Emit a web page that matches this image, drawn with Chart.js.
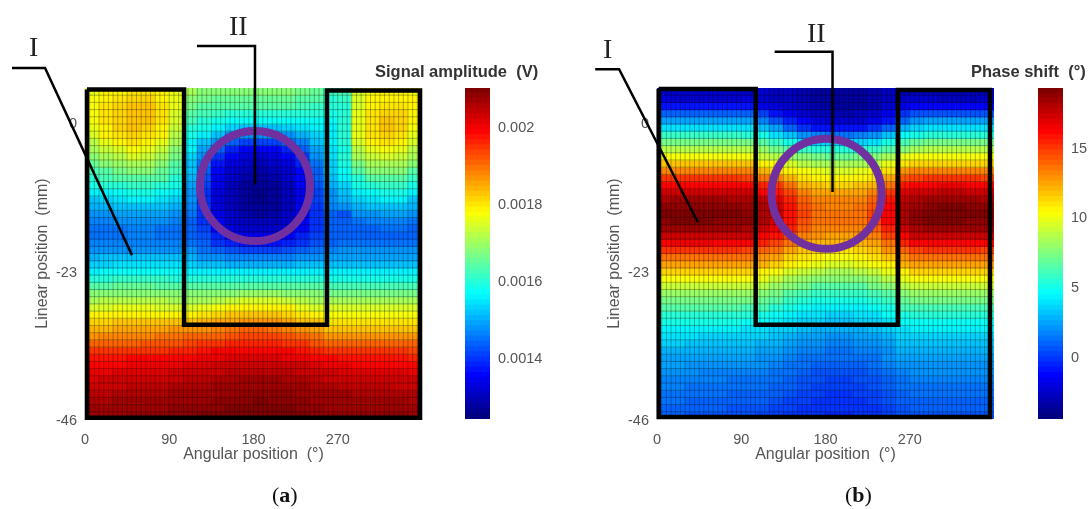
<!DOCTYPE html>
<html>
<head>
<meta charset="utf-8">
<script src="https://cdn.jsdelivr.net/npm/chart.js@4"></script>
<style>
	html, body { margin: 0; padding: 0; background: #fff; width: 1092px; height: 509px; overflow: hidden; }
	canvas { position: absolute; top: 0; filter: blur(0.4px); }
	.txt { position: absolute; white-space: pre; line-height: 1; }
	.cb { font: bold 16.5px "Liberation Sans"; color: #333; top: 62px; }
	.ref { font: 28px "Liberation Serif"; color: #222; }
	.cap { font: 22px "Liberation Serif"; color: #111; top: 482px; }
</style>
</head>
<body>
<canvas id="mapA" style="left:0"></canvas>
<canvas id="barA" style="left:465px"></canvas>
<canvas id="mapB" style="left:572px"></canvas>
<canvas id="barB" style="left:1038px"></canvas>
<div class="txt cb" style="left:375px">Signal amplitude  (V)</div>
<div class="txt cb" style="left:971px">Phase shift  (°)</div>
<div class="txt ref" style="left:29px;top:31px">I</div>
<div class="txt ref" style="left:229px;top:10px">II</div>
<div class="txt ref" style="left:603px;top:33px">I</div>
<div class="txt ref" style="left:807px;top:17px">II</div>
<div class="txt cap" style="left:272px">(<b>a</b>)</div>
<div class="txt cap" style="left:845px">(<b>b</b>)</div>
<script>
// column centres in degrees, rows run top to bottom
var angleCentres = [7.5,22.5,37.5,52.5,67.5,82.5,97.5,112.5,127.5,142.5,157.5,172.5,187.5,202.5,217.5,232.5,247.5,262.5,277.5,292.5,307.5,322.5,337.5,352.5];
var angleTicks = [0, 90, 180, 270];
var linearTicks = [0, -23, -46];
var linearTop = 5.3;
var linearBottom = -46;

// signal amplitude, in 1e-5 V
var amplitudeRows = [
	[176,178,179,180,180,179,176,170,168,167,167,167,167,167,167,166,165,161,162,174,177,178,178,177],
	[177,179,180,181,181,179,176,168,166,165,165,165,165,165,165,164,163,160,161,175,178,179,179,178],
	[177,180,181,182,182,180,176,166,164,163,163,163,163,163,163,162,161,159,160,175,179,180,180,178],
	[177,180,181,182,182,180,175,164,162,161,160,160,160,160,160,160,159,158,160,176,180,181,181,178],
	[177,180,181,182,182,180,174,162,160,158,157,157,157,157,157,157,157,157,159,176,180,182,181,178],
	[176,179,181,182,181,179,173,160,158,155,153,152,152,152,153,154,155,156,159,176,180,182,181,177],
	[175,178,180,181,180,178,172,158,155,151,148,147,147,147,148,150,153,155,159,176,180,181,180,176],
	[172,176,178,180,179,176,170,156,152,147,143,141,141,141,143,146,151,155,159,175,178,180,179,174],
	[170,173,175,177,176,173,168,155,149,143,138,136,135,136,138,143,149,154,158,172,176,177,176,172],
	[167,170,172,174,173,171,166,153,147,140,135,133,132,133,135,140,147,154,160,170,173,174,173,170],
	[165,167,169,170,170,168,164,152,145,137,133,131,130,131,133,138,145,153,158,166,170,170,170,167],
	[162,164,166,167,167,165,162,151,143,135,132,130,129,130,132,136,144,153,157,163,167,167,167,164],
	[160,162,163,164,164,163,160,150,142,134,131,129,128,129,131,135,143,152,155,160,163,164,164,161],
	[158,159,160,161,161,160,158,149,141,134,130,128,127,128,130,135,142,150,153,158,160,161,161,158],
	[155,156,157,158,158,157,155,148,140,133,130,127,126,127,130,134,141,148,151,156,157,158,158,155],
	[152,153,154,155,155,154,153,147,140,133,130,127,126,127,130,134,141,147,150,153,154,155,155,152],
	[150,150,151,152,152,151,150,146,140,133,130,128,127,128,130,134,140,146,148,150,151,152,152,150],
	[148,148,149,149,149,149,148,145,140,134,131,129,128,129,131,134,139,143,142,147,148,149,149,147],
	[146,146,147,147,147,147,146,144,140,135,132,130,130,130,132,135,140,143,144,145,146,146,146,145],
	[145,145,145,146,146,145,145,144,141,136,133,132,132,132,133,136,140,143,144,144,144,145,145,144],
	[145,145,145,146,146,145,145,144,142,138,135,134,134,134,135,138,141,143,143,144,144,144,144,144],
	[146,146,146,146,146,146,146,145,143,140,138,137,137,137,138,140,142,144,145,145,145,145,145,145],
	[148,148,148,148,148,148,148,147,145,143,142,141,141,141,142,143,145,146,147,147,147,147,147,147],
	[150,151,151,151,151,151,151,150,148,147,146,146,146,146,146,147,148,149,149,149,149,149,149,149],
	[153,153,154,154,154,154,154,153,152,151,150,150,150,150,150,151,152,152,152,152,152,152,152,152],
	[156,157,157,157,157,157,157,156,155,155,155,155,155,155,155,155,155,155,155,155,155,155,155,155],
	[159,160,161,161,161,161,160,160,159,159,159,160,160,160,159,159,159,158,158,158,158,158,158,158],
	[163,164,165,165,165,164,164,163,163,163,164,164,164,164,164,163,163,162,162,162,162,162,162,162],
	[167,168,168,168,168,168,168,167,167,168,168,169,169,169,168,168,167,166,166,166,166,166,166,166],
	[171,172,172,172,172,172,171,171,171,172,173,174,174,174,173,172,171,170,170,170,170,170,170,170],
	[175,175,176,176,176,175,175,175,176,177,178,178,178,178,178,176,175,174,174,174,174,174,174,174],
	[178,178,179,179,179,179,178,179,180,181,182,182,182,182,181,180,178,177,177,177,177,177,177,177],
	[181,181,182,182,182,182,182,183,184,185,185,186,186,186,185,183,182,180,180,180,180,180,180,180],
	[184,184,185,185,185,185,186,186,187,188,189,190,190,189,188,187,185,183,183,183,183,183,183,183],
	[187,188,188,188,188,189,189,190,191,191,192,193,193,193,192,190,189,187,187,187,187,187,187,187],
	[190,191,191,191,192,192,192,193,194,195,196,196,196,196,195,194,192,191,191,190,190,190,190,190],
	[194,194,194,195,195,195,196,196,197,198,199,199,199,199,198,197,196,194,194,194,194,194,194,193],
	[197,197,197,198,198,198,198,199,200,200,201,201,201,201,200,200,199,198,197,197,197,197,197,196],
	[199,199,199,200,200,200,200,201,201,202,202,203,203,203,202,202,201,200,200,199,199,199,199,199],
	[200,200,201,201,201,201,202,202,203,203,204,204,204,204,204,203,203,202,201,201,201,201,201,200],
	[201,202,202,202,203,203,203,204,204,205,205,206,206,206,205,205,204,203,203,203,203,202,202,202],
	[203,203,203,204,204,204,205,205,205,206,207,207,207,207,207,206,205,205,204,204,204,204,203,203],
	[204,204,205,205,205,205,206,206,206,207,207,208,208,208,208,207,206,206,206,205,205,205,205,205],
	[205,205,206,206,206,206,207,207,207,208,208,208,209,208,208,208,207,207,207,206,206,206,206,205],
	[206,206,207,207,207,207,208,208,208,208,209,209,209,209,209,208,208,207,207,207,207,207,207,206],
	[207,207,207,208,208,208,208,208,209,209,209,209,209,209,209,209,208,208,208,208,208,208,208,207]
];

// phase shift, in degrees
var phaseRows = [
	[-2.4,-2.5,-2.5,-2.5,-2.5,-2.5,-2.4,-2.6,-2.8,-3,-3.2,-3.4,-3.5,-3.5,-3.4,-3.2,-3,-2.7,-2.7,-2.8,-2.9,-2.9,-2.9,-2.8],
	[-2.2,-2.3,-2.3,-2.3,-2.3,-2.3,-2.2,-2.5,-2.8,-3,-3.3,-3.5,-3.6,-3.7,-3.6,-3.3,-3,-2.6,-2.5,-2.6,-2.7,-2.7,-2.7,-2.6],
	[-1,-1,-1,-1,-1,-1,-1,-1.6,-2,-2.5,-3,-3.3,-3.5,-3.6,-3.5,-3.2,-2.6,-1.6,-1.2,-1.2,-1.2,-1.2,-1.2,-1.2],
	[0.8,0.8,0.7,0.7,0.7,0.7,0.7,0,-0.8,-1.6,-2.3,-2.8,-3,-3.1,-3,-2.6,-1.8,-0.2,0.4,0.5,0.5,0.5,0.5,0.5],
	[2.5,2.4,2.4,2.4,2.4,2.4,2.3,1.6,0.6,-0.5,-1.5,-2,-2.4,-2.5,-2.3,-1.8,-1,0.9,2,2.2,2.2,2.2,2.2,2.2],
	[4,4,4,3.9,3.9,3.9,3.8,3.2,2.2,1,-0.2,-0.8,-1,-1,-0.9,-0.4,1,2.8,3.6,3.8,3.8,3.8,3.8,3.8],
	[5.6,5.6,5.5,5.5,5.5,5.5,5.4,4.8,4,3,2,1.5,1.2,1.3,1.5,2,3,4.4,5.1,5.3,5.3,5.3,5.3,5.3],
	[7.2,7.2,7.1,7.1,7.1,7.1,7,6.3,5.5,4.8,4,3.6,3.4,3.4,3.6,4,4.8,6,6.8,7,7,7,7,7],
	[8.8,8.8,8.8,8.8,8.8,8.8,8.7,7.8,7,6.3,5.8,5.4,5.2,5.2,5.4,5.8,6.5,7.6,8.4,8.6,8.6,8.6,8.6,8.6],
	[10.3,10.3,10.3,10.3,10.3,10.3,10.2,9.2,8.5,7.9,7.4,7,6.8,6.8,7,7.4,8.2,9.6,10,10.1,10.1,10.1,10.1,10.1],
	[11.6,11.6,11.6,11.6,11.6,11.6,11.5,10.6,10,9.4,8.8,8.4,8.2,8.2,8.4,8.8,9.6,11,11.4,11.4,11.4,11.4,11.4,11.4],
	[13.2,13.2,13.2,13.2,13.2,13.2,13.1,12,11.3,10.6,10,9.6,9.4,9.4,9.6,10,10.9,12.6,13,13,13.1,13.1,13,13],
	[14.8,14.8,14.8,14.8,14.8,14.8,14.7,13.6,13,11.8,11,10.6,10.4,10.4,10.6,11,12.2,14.2,14.6,14.8,14.9,14.9,14.8,14.7],
	[16.2,16.2,16.2,16.2,16.2,16.2,16.1,15.2,14.8,13.4,12,11.6,11.4,11.4,11.6,12,13.6,15.8,16,16.2,16.3,16.3,16.2,16.1],
	[17.2,17.3,17.3,17.3,17.2,17.2,17.1,16.2,15.8,14.4,13,12.4,12.2,12.2,12.4,13,14.8,16.8,17,17.3,17.4,17.4,17.3,17.2],
	[18,18.1,18.2,18.2,18.1,18,17.9,17.4,16.8,15.4,13.8,13.2,13,13,13.2,13.8,15.6,17.4,17.9,18.2,18.4,18.4,18.2,18],
	[18.6,18.8,18.8,18.8,18.7,18.6,18.4,17.8,17.2,15.6,14.2,13.4,13.2,13.2,13.4,14.2,16,17.8,18.4,18.8,18.9,18.9,18.8,18.6],
	[19,19.1,19.1,19.1,19,18.9,18.7,18,17.4,15.8,14.4,13.6,13.4,13.4,13.6,14.4,16.2,18,18.8,19.1,19.2,19.1,19,18.9],
	[18.8,18.9,18.9,18.9,18.8,18.7,18.5,17.8,17.2,15.7,14.2,13.6,13.4,13.4,13.6,14.4,16,17.8,18.6,18.9,19,18.9,18.8,18.7],
	[18.2,18.3,18.3,18.3,18.2,18.1,17.9,17.2,16.6,15.2,13.8,13.2,13,13,13.2,13.8,15.4,17.2,18,18.2,18.3,18.3,18.2,18.1],
	[17.2,17.3,17.3,17.3,17.2,17.2,17,16.2,15.6,14.4,13,12.6,12.4,12.4,12.6,13.2,14.6,16.2,17,17.2,17.3,17.3,17.2,17.1],
	[16.2,16.3,16.3,16.3,16.2,16.2,16,15.2,14.6,13.4,12.4,12,11.8,11.8,12,12.4,13.6,15.2,16,16.2,16.2,16.2,16.2,16.1],
	[14.8,14.8,14.9,14.9,14.8,14.8,14.6,14,13.4,12.4,11.6,11.2,11,11,11.2,11.6,12.6,14,14.6,14.8,14.8,14.8,14.8,14.7],
	[13.6,13.6,13.6,13.6,13.6,13.6,13.4,12.8,12.2,11.4,10.8,10.4,10.2,10.2,10.4,10.8,11.6,12.8,13.4,13.6,13.6,13.6,13.6,13.5],
	[12.5,12.5,12.5,12.5,12.5,12.5,12.4,11.8,11.2,10.5,10,9.6,9.4,9.4,9.6,10,10.6,11.8,12.4,12.5,12.5,12.5,12.5,12.4],
	[11.3,11.3,11.3,11.3,11.3,11.3,11.2,10.6,10,9.4,9,8.6,8.4,8.4,8.6,9,9.6,10.6,11.2,11.3,11.3,11.3,11.3,11.2],
	[10.3,10.3,10.3,10.3,10.3,10.3,10.2,9.6,9,8.4,8,7.6,7.4,7.4,7.6,8,8.6,9.6,10.2,10.3,10.3,10.3,10.3,10.2],
	[9,9,9,9,9,9,8.9,8.5,8,7.4,7,6.6,6.4,6.4,6.6,7,7.6,8.6,9,9,9,9,9,9],
	[8,8,8,8,8,8,7.9,7.4,7,6.4,6,5.7,5.5,5.5,5.7,6,6.6,7.6,8,8,8,8,8,8],
	[7.2,7.2,7.2,7.2,7.2,7.2,7.1,6.8,6.3,5.8,5.3,5,4.8,4.8,5,5.3,5.8,6.8,7.1,7.1,7.1,7.1,7.1,7.1],
	[6.3,6.3,6.3,6.3,6.3,6.3,6.2,5.9,5.4,5,4.6,4.3,4.1,4.1,4.3,4.6,5,5.9,6.2,6.2,6.2,6.2,6.2,6.2],
	[5.4,5.4,5.4,5.4,5.4,5.4,5.3,5,4.7,4.3,4,3.7,3.5,3.5,3.7,4,4.4,5,5.3,5.3,5.3,5.3,5.3,5.3],
	[4.8,4.8,4.8,4.8,4.8,4.8,4.7,4.5,4.2,3.9,3.6,3.3,3.1,3.1,3.3,3.6,4,4.5,4.7,4.7,4.7,4.7,4.7,4.7],
	[4.2,4.2,4.2,4.2,4.1,4.1,4,3.9,3.6,3.3,3,2.7,2.6,2.6,2.7,3,3.4,3.9,4.1,4.1,4.1,4.1,4.1,4.1],
	[3.7,3.7,3.7,3.6,3.6,3.5,3.5,3.4,3.1,2.8,2.5,2.2,2.1,2.1,2.2,2.5,2.9,3.4,3.6,3.6,3.6,3.6,3.6,3.6],
	[3.3,3.3,3.2,3.1,3.1,3,3,2.9,2.7,2.4,2.1,1.8,1.7,1.7,1.8,2.1,2.5,3,3.2,3.2,3.2,3.2,3.2,3.2],
	[2.9,2.9,2.8,2.7,2.7,2.6,2.6,2.5,2.3,2,1.7,1.5,1.4,1.4,1.5,1.7,2.1,2.6,2.8,2.8,2.8,2.8,2.8,2.8],
	[2.5,2.5,2.4,2.3,2.3,2.2,2.2,2.1,1.9,1.7,1.4,1.2,1.1,1.1,1.2,1.4,1.8,2.2,2.4,2.4,2.4,2.4,2.4,2.4],
	[2.2,2.2,2.1,2,2,1.9,1.9,1.8,1.6,1.4,1.1,0.9,0.8,0.8,0.9,1.1,1.5,1.9,2.1,2.1,2.1,2.1,2.1,2.1],
	[1.9,1.9,1.8,1.7,1.7,1.6,1.6,1.5,1.3,1.1,0.8,0.6,0.5,0.5,0.6,0.8,1.2,1.6,1.8,1.8,1.8,1.8,1.8,1.8],
	[1.7,1.7,1.6,1.5,1.5,1.4,1.4,1.3,1.1,0.9,0.6,0.4,0.3,0.3,0.4,0.6,1,1.4,1.6,1.6,1.6,1.6,1.6,1.6],
	[1.5,1.5,1.4,1.3,1.3,1.2,1.2,1.1,0.9,0.7,0.4,0.2,0.1,0.1,0.2,0.4,0.8,1.2,1.4,1.4,1.4,1.4,1.4,1.4],
	[1.3,1.3,1.2,1.1,1.1,1,1,0.9,0.7,0.5,0.2,0,-0.1,-0.1,0,0.2,0.6,1,1.2,1.2,1.2,1.2,1.2,1.2],
	[1.1,1.1,1,0.9,0.9,0.8,0.8,0.7,0.5,0.3,0,-0.2,-0.3,-0.3,-0.2,0,0.4,0.8,1,1,1,1,1,1],
	[0.9,0.9,0.8,0.7,0.7,0.6,0.6,0.5,0.3,0.1,-0.2,-0.3,-0.4,-0.4,-0.3,-0.2,0.2,0.6,0.8,0.8,0.8,0.8,0.8,0.8],
	[0.7,0.7,0.6,0.5,0.5,0.4,0.4,0.3,0.1,-0.1,-0.3,-0.4,-0.5,-0.5,-0.4,-0.3,0,0.4,0.6,0.6,0.6,0.6,0.6,0.6]
];

// overlays, in axis units (degrees, mm)
var outlineAngleA = [2.1, 105.8, 105.8, 258.5, 258.5, 357.9, 357.9, 2.1, 2.1];
var outlineLinearA = [5.07, 5.07, -31.4, -31.4, 4.9, 4.9, -45.8, -45.8, 5.07];
var leaderOneAngleA = [50.2, -42.7, -78];
var leaderOneLinearA = [-20.6, 8.4, 8.4];
var leaderTwoAngleA = [119.6, 181.6, 181.6];
var leaderTwoLinearA = [11.8, 11.8, -9.7];
var circleA = [181.6, -9.9];

var outlineAngleB = [1.8, 105.4, 105.4, 257.4, 257.4, 355.7, 355.7, 1.8, 1.8];
var outlineLinearB = [5.15, 5.15, -31.4, -31.4, 5, 5, -45.7, -45.7, 5.15];
var leaderOneAngleB = [43.7, -40.5, -66];
var leaderOneLinearB = [-15.5, 8.2, 8.2];
var leaderTwoAngleB = [125.7, 187.5, 187.5];
var leaderTwoLinearB = [10.9, 10.9, -10.8];
var circleB = [181.1, -11.1];

var amplitudeRange = [124, 210];
var amplitudeTicks = [140, 160, 180, 200];
var amplitudeTickLabels = ['0.0014', '0.0016', '0.0018', '0.002'];
var phaseRange = [-4.5, 19.2];
var phaseTicks = [0, 5, 10, 15];
var phaseTickLabels = ['0', '5', '10', '15'];

var tickColor = '#555';

function clamp01(v) {
	return Math.max(0, Math.min(1, v));
}

function jetColor(t) {
	var level = Math.min(63, Math.floor(clamp01(t) * 64)) / 63;
	var r = clamp01(1.5 - Math.abs(4 * level - 3));
	var g = clamp01(1.5 - Math.abs(4 * level - 2));
	var b = clamp01(1.5 - Math.abs(4 * level - 1));
	return 'rgb(' + Math.round(r * 255) + ',' + Math.round(g * 255) + ',' + Math.round(b * 255) + ')';
}

function pairUp(xs, ys) {
	return xs.map(function (x, i) { return {x: x, y: ys[i]}; });
}

function lineDataset(points, color, width, order) {
	return {
		type: 'scatter',
		data: points,
		showLine: true,
		borderColor: color,
		borderWidth: width,
		pointRadius: 0,
		borderJoinStyle: 'miter',
		spanGaps: false,
		clip: false,
		order: order
	};
}

// thin mesh over the cells, 5 degrees by one row
function meshPoints() {
	var pts = [];
	var rowStep = (linearTop - linearBottom) / amplitudeRows.length;
	for (let x = 5; x < 360; x += 5) {
		pts.push({x: x, y: linearBottom}, {x: x, y: linearTop}, {x: NaN, y: NaN});
	}
	for (let i = 1; i < amplitudeRows.length; i++) {
		let y = linearTop - i * rowStep;
		pts.push({x: 0, y: y}, {x: 360, y: y}, {x: NaN, y: NaN});
	}
	return pts;
}

function heatmap(id, rows, range, ov) {
	var rowStep = (linearTop - linearBottom) / rows.length;
	var datasets = rows.map(function (row, i) {
		var hi = linearTop - i * rowStep;
		return {
			data: row.map(function (v, j) {
				return {x: angleCentres[j], y: [hi - rowStep, hi]};
			}),
			backgroundColor: row.map(function (v) {
				return jetColor((v - range[0]) / (range[1] - range[0]));
			}),
			grouped: false,
			barPercentage: 1,
			categoryPercentage: 1,
			borderWidth: 0,
			inflateAmount: 0.6,
			order: 10
		};
	});
	datasets.push(lineDataset(meshPoints(), 'rgba(0,0,0,0.3)', 1, 5));
	datasets.push(lineDataset(pairUp(ov.outlineX, ov.outlineY), '#000', 4.5, 4));
	datasets.push(lineDataset(pairUp(ov.oneX, ov.oneY), '#000', 2.5, 1));
	datasets.push(lineDataset(pairUp(ov.twoX, ov.twoY), '#000', 2.5, 1));
	datasets.push({
		type: 'scatter',
		data: [{x: ov.circle[0], y: ov.circle[1]}],
		pointStyle: 'circle',
		pointRadius: 55,
		pointBorderColor: '#7030a0',
		pointBackgroundColor: 'rgba(0,0,0,0)',
		pointBorderWidth: 8,
		clip: false,
		order: 2
	});
	var canvas = document.getElementById(id);
	canvas.width = 460;
	canvas.height = 509;
	canvas.style.width = '460px';
	canvas.style.height = '509px';
	return new Chart(canvas, {
		type: 'bar',
		data: {datasets: datasets},
		options: {
			responsive: false,
			animation: false,
			events: [],
			layout: {autoPadding: false, padding: {left: 33, right: 38, top: 88, bottom: 45}},
			plugins: {legend: {display: false}, tooltip: {enabled: false}},
			scales: {
				x: {
					type: 'linear',
					offset: false,
					min: 0,
					max: 360,
					afterBuildTicks: function (axis) {
						axis.ticks = angleTicks.map(function (v) { return {value: v}; });
					},
					afterFit: function (axis) {
						axis.height = 45;
						axis.paddingLeft = 0;
						axis.paddingRight = 0;
					},
					grid: {display: false, drawTicks: false},
					border: {display: false},
					ticks: {padding: 12, color: tickColor, maxRotation: 0, autoSkip: false, font: {family: 'Liberation Sans', size: 14.5}},
					title: {display: true, text: 'Angular position  (°)', color: tickColor, padding: {top: 0, bottom: 0}, font: {family: 'Liberation Sans', size: 16}}
				},
				y: {
					type: 'linear',
					min: linearBottom,
					max: linearTop,
					afterBuildTicks: function (axis) {
						axis.ticks = linearTicks.map(function (v) { return {value: v}; });
					},
					afterFit: function (axis) {
						axis.width = 52;
						axis.paddingTop = 0;
						axis.paddingBottom = 0;
					},
					grid: {display: false, drawTicks: false},
					border: {display: false},
					ticks: {padding: 8, labelOffset: 2, color: tickColor, autoSkip: false, font: {family: 'Liberation Sans', size: 14.5}},
					title: {display: true, text: 'Linear position  (mm)', color: tickColor, padding: {top: 0, bottom: 0}, font: {family: 'Liberation Sans', size: 16}}
				}
			}
		}
	});
}

function colorbar(id, range, tickValues, tickLabels, width) {
	var datasets = [];
	var step = (range[1] - range[0]) / 64;
	for (let i = 0; i < 64; i++) {
		datasets.push({
			data: [[range[0] + i * step, range[0] + (i + 1) * step]],
			backgroundColor: jetColor((i + 0.5) / 64),
			grouped: false,
			barPercentage: 1,
			categoryPercentage: 1,
			borderWidth: 0,
			inflateAmount: 0.6
		});
	}
	var canvas = document.getElementById(id);
	canvas.width = width;
	canvas.height = 509;
	canvas.style.width = width + 'px';
	canvas.style.height = '509px';
	return new Chart(canvas, {
		type: 'bar',
		data: {labels: [''], datasets: datasets},
		options: {
			responsive: false,
			animation: false,
			events: [],
			layout: {padding: {left: 0, right: 0, top: 88, bottom: 90}},
			plugins: {legend: {display: false}, tooltip: {enabled: false}},
			scales: {
				x: {display: false},
				y: {
					position: 'right',
					min: range[0],
					max: range[1],
					afterBuildTicks: function (axis) {
						axis.ticks = tickValues.map(function (v) { return {value: v}; });
					},
					afterFit: function (axis) {
						axis.width = width - 25;
						axis.paddingTop = 0;
						axis.paddingBottom = 0;
					},
					grid: {display: false, drawTicks: false},
					border: {display: false},
					ticks: {
						padding: 8,
						labelOffset: 2,
						color: tickColor,
						autoSkip: false,
						font: {family: 'Liberation Sans', size: 14.5},
						callback: function (v) { return tickLabels[tickValues.indexOf(v)]; }
					}
				}
			}
		}
	});
}

heatmap('mapA', amplitudeRows, amplitudeRange, {
	outlineX: outlineAngleA, outlineY: outlineLinearA,
	oneX: leaderOneAngleA, oneY: leaderOneLinearA,
	twoX: leaderTwoAngleA, twoY: leaderTwoLinearA,
	circle: circleA
});
heatmap('mapB', phaseRows, phaseRange, {
	outlineX: outlineAngleB, outlineY: outlineLinearB,
	oneX: leaderOneAngleB, oneY: leaderOneLinearB,
	twoX: leaderTwoAngleB, twoY: leaderTwoLinearB,
	circle: circleB
});
colorbar('barA', amplitudeRange, amplitudeTicks, amplitudeTickLabels, 100);
colorbar('barB', phaseRange, phaseTicks, phaseTickLabels, 54);
</script>
</body>
</html>
